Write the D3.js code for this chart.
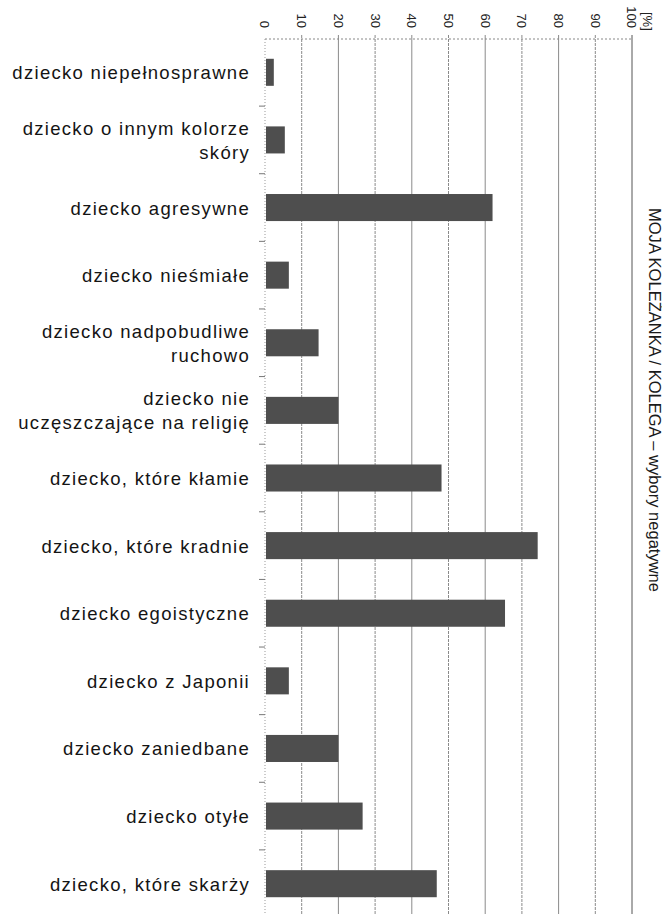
<!DOCTYPE html>
<html>
<head>
<meta charset="utf-8">
<script src="https://cdn.jsdelivr.net/npm/d3@7"></script>
<style>
  html, body { margin: 0; padding: 0; background: #fff; }
  svg { display: block; }
  text { font-family: "Liberation Sans", Arial, Helvetica, sans-serif; }
</style>
</head>
<body>
<div id="chart"></div>
<script>
// ---- data ----
const categories = [
  "dziecko niepełnosprawne",
  "dziecko o innym kolorze\nskóry",
  "dziecko agresywne",
  "dziecko nieśmiałe",
  "dziecko nadpobudliwe\nruchowo",
  "dziecko nie\nuczęszczające na religię",
  "dziecko, które kłamie",
  "dziecko, które kradnie",
  "dziecko egoistyczne",
  "dziecko z Japonii",
  "dziecko zaniedbane",
  "dziecko otyłe",
  "dziecko, które skarży"
];
const values = [2.4, 5.4, 62.0, 6.5, 14.6, 20.0, 48.1, 74.3, 65.4, 6.5, 20.0, 26.6, 46.8];
const tickValues = [0, 10, 20, 30, 40, 50, 60, 70, 80, 90, 100];
const unitLabel = "[%]";
const title = "MOJA KOLEŻANKA / KOLEGA – wybory negatywne";

// ---- layout ----
const W = 662, H = 914;
const svg = d3.select("#chart").append("svg").attr("width", W).attr("height", H);

const x = d3.scaleLinear().domain([0, 100]).range([265, 632]);
const y = d3.scaleBand().domain(categories).range([38.5, 917.5]).paddingInner(0.6).paddingOuter(0.3);
const axisY = 39;

// gridlines
svg.append("g").selectAll("line").data(tickValues.filter(d => d > 0)).join("line")
  .attr("x1", d => x(d)).attr("x2", d => x(d))
  .attr("y1", axisY - 4).attr("y2", H)
  .attr("stroke", d => d === 100 ? "#555" : "#8a8a8a")
  .attr("stroke-width", 1)
  .attr("stroke-dasharray", d => (d % 20 === 10 && d !== 100) ? "3,1" : null);

// top axis line (dotted)
svg.append("line").attr("x1", x(0)).attr("x2", x(100)).attr("y1", axisY).attr("y2", axisY)
  .attr("stroke", "#888").attr("stroke-dasharray", "2,2");

// left axis line (dotted)
svg.append("line").attr("x1", x(0)).attr("x2", x(0)).attr("y1", axisY).attr("y2", H)
  .attr("stroke", "#999").attr("stroke-dasharray", "1,2");

// category boundary ticks
const step = y.step();
const boundaries = categories.slice(1).map(c => y(c) - (step - y.bandwidth()) / 2);
svg.append("g").selectAll("line").data(boundaries).join("line")
  .attr("x1", x(0) - 6).attr("x2", x(0))
  .attr("y1", d => d).attr("y2", d => d)
  .attr("stroke", "#777");

// top tick labels (rotated)
svg.append("g").selectAll("text").data(tickValues).join("text")
  .attr("transform", d => `translate(${x(d)},28) rotate(90)`)
  .attr("text-anchor", "end")
  .attr("dy", "0.35em")
  .attr("font-size", 13)
  .attr("fill", "#222")
  .text(d => d);

svg.append("text")
  .attr("transform", `translate(648,12) rotate(90)`)
  .attr("text-anchor", "start")
  .attr("dy", "0.35em")
  .attr("font-size", 13)
  .attr("fill", "#222")
  .text(unitLabel);

// bars
svg.append("g").selectAll("rect").data(categories).join("rect")
  .attr("x", x(0) + 1)
  .attr("y", d => y(d))
  .attr("width", (d, i) => x(values[i]) - x(0) - 1)
  .attr("height", y.bandwidth())
  .attr("fill", "#4e4e4e");

// category labels
const lbl = svg.append("g").selectAll("text").data(categories).join("text")
  .attr("text-anchor", "end")
  .attr("font-size", 18.5)
  .attr("letter-spacing", "1.3px")
  .attr("fill", "#141414")
  .attr("y", d => {
    const lines = d.split("\n").length;
    return y(d) + y.bandwidth() / 2 + 7 - (lines - 1) * 12;
  });
lbl.each(function(d) {
  const t = d3.select(this);
  d.split("\n").forEach((line, i) => {
    t.append("tspan").attr("x", 250).attr("dy", i === 0 ? 0 : 24).text(line);
  });
});

// title (rotated, right edge of the page)
svg.append("text")
  .attr("transform", `translate(649,208) rotate(90)`)
  .attr("text-anchor", "start")
  .attr("font-size", 16)
  .attr("textLength", 384)
  .attr("lengthAdjust", "spacingAndGlyphs")
  .attr("fill", "#1a1a1a")
  .text(title);
</script>
</body>
</html>
